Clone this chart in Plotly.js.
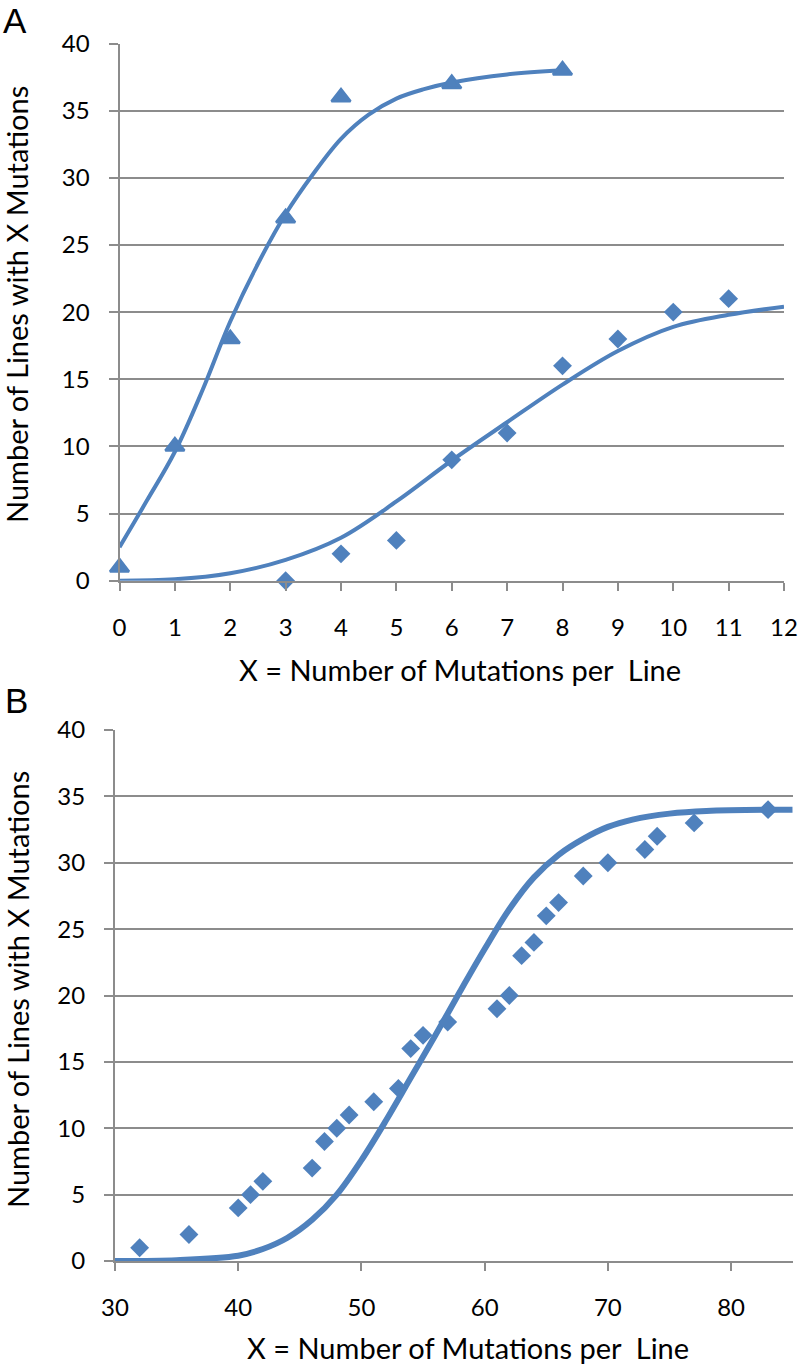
<!DOCTYPE html>
<html>
<head>
<meta charset="utf-8">
<script src="https://cdn.plot.ly/plotly-3.0.1.min.js"></script>
<style>
  html, body { margin: 0; padding: 0; background: #ffffff; }
  #chart { width: 799px; height: 1367px; }
</style>
</head>
<body>
<div id="chart"></div>
<script>
// ---- Panel A data ----
const aTriX = [0, 1, 2, 3, 4, 6, 8];
const aTriY = [1, 10, 18, 27, 36, 37, 38];
const aDiaX = [3, 4, 5, 6, 7, 8, 9, 10, 11];
const aDiaY = [0, 2, 3, 9, 11, 16, 18, 20, 21];
const aFitTriX = [0, 0.5, 1, 1.5, 2, 2.5, 3, 3.5, 4, 4.5, 5, 5.5, 6, 7, 8];
const aFitTriY = [2.5, 6.0, 9.6, 14.2, 19.3, 23.6, 27.3, 30.3, 32.9, 34.7, 35.9, 36.6, 37.1, 37.7, 38.0];
const aFitDiaX = [0, 1, 2, 3, 4, 5, 6, 7, 8, 9, 10, 11, 12];
const aFitDiaY = [0, 0.1, 0.55, 1.55, 3.2, 5.9, 8.95, 11.8, 14.6, 17.1, 18.9, 19.8, 20.4];

// ---- Panel B data ----
const bDiaX = [32, 36, 40, 41, 42, 46, 47, 48, 49, 51, 53, 54, 55, 57, 61, 62, 63, 64, 65, 66, 68, 70, 73, 74, 77, 83];
const bDiaY = [1, 2, 4, 5, 6, 7, 9, 10, 11, 12, 13, 16, 17, 18, 19, 20, 23, 24, 26, 27, 29, 30, 31, 32, 33, 34];
const bFitX = [30, 35, 40, 42, 44, 46, 48, 50, 52, 54, 56, 58, 60, 62, 64, 66, 68, 70, 72, 75, 78, 85];
const bFitY = [0, 0.06, 0.4, 0.9, 1.75, 3.1, 5.0, 7.6, 10.6, 13.8, 17.0, 20.3, 23.5, 26.5, 28.9, 30.6, 31.8, 32.7, 33.25, 33.7, 33.9, 34.0];

// ---- Labels ----
const yTitle = 'Number of Lines with X Mutations';
const xTitle = 'X = Number of Mutations per&nbsp; Line';
const panelLabels = ['A', 'B'];

const W = 799, H = 1367;
const blue = '#4F81BD';
const grid = '#8c8c8c';
const tickFont = { family: 'Lato, "Open Sans", sans-serif', size: 24, color: '#000000' };
const titleFont = { family: 'Lato, "Open Sans", sans-serif', size: 29, color: '#000000' };

const px = v => v / W;
const py = v => 1 - v / H;

const traces = [
  { x: aFitTriX, y: aFitTriY, xaxis: 'x', yaxis: 'y', mode: 'lines',
    line: { color: blue, width: 4, shape: 'spline', smoothing: 1 }, cliponaxis: false, hoverinfo: 'skip' },
  { x: aFitDiaX, y: aFitDiaY, xaxis: 'x', yaxis: 'y', mode: 'lines',
    line: { color: blue, width: 4, shape: 'spline', smoothing: 1 }, cliponaxis: false, hoverinfo: 'skip' },
  { x: aTriX, y: aTriY, xaxis: 'x', yaxis: 'y', mode: 'markers',
    marker: { symbol: 'triangle-up', size: 16.5, color: blue, line: { color: blue, width: 2.5 } }, cliponaxis: false },
  { x: aDiaX, y: aDiaY, xaxis: 'x', yaxis: 'y', mode: 'markers',
    marker: { symbol: 'diamond', size: 14.5, color: blue }, cliponaxis: false },
  { x: bFitX, y: bFitY, xaxis: 'x2', yaxis: 'y2', mode: 'lines',
    line: { color: blue, width: 6, shape: 'spline', smoothing: 1 }, cliponaxis: false, hoverinfo: 'skip' },
  { x: bDiaX, y: bDiaY, xaxis: 'x2', yaxis: 'y2', mode: 'markers',
    marker: { symbol: 'diamond', size: 14.5, color: blue }, cliponaxis: false }
];

const yAxisCommon = {
  range: [0, 40], dtick: 5, tick0: 0, showgrid: true, gridcolor: grid, gridwidth: 2,
  zeroline: false, showline: true, linecolor: grid, linewidth: 2,
  ticks: 'outside', ticklen: 9, tickwidth: 2, tickcolor: grid,
  tickfont: tickFont, ticklabelstandoff: 14, fixedrange: true
};
const xAxisCommon = {
  showgrid: false, zeroline: false, showline: true, linecolor: grid, linewidth: 2,
  ticks: 'outside', ticklen: 8, tickwidth: 2, tickcolor: grid,
  tickfont: tickFont, ticklabelstandoff: 16, fixedrange: true
};

const layout = {
  width: W, height: H,
  margin: { l: 0, r: 0, t: 0, b: 0 },
  paper_bgcolor: '#ffffff', plot_bgcolor: '#ffffff',
  showlegend: false,
  xaxis: Object.assign({}, xAxisCommon, { domain: [px(119.5), px(784)], range: [0, 12], dtick: 1, tick0: 0, anchor: 'y' }),
  yaxis: Object.assign({}, yAxisCommon, { domain: [py(580.7), py(43.5)], anchor: 'x' }),
  xaxis2: Object.assign({}, xAxisCommon, { domain: [px(115), px(792.7)], range: [30, 85], dtick: 10, tick0: 30, anchor: 'y2' }),
  yaxis2: Object.assign({}, yAxisCommon, { domain: [py(1261), py(730)], anchor: 'x2' }),
  annotations: [
    { text: panelLabels[0], xref: 'paper', yref: 'paper', x: px(15), y: py(20.5), xanchor: 'center', yanchor: 'middle',
      showarrow: false, font: { family: '"Liberation Sans", Arial, sans-serif', size: 35, color: '#000' } },
    { text: panelLabels[1], xref: 'paper', yref: 'paper', x: px(16), y: py(700.5), xanchor: 'center', yanchor: 'middle',
      showarrow: false, font: { family: '"Liberation Sans", Arial, sans-serif', size: 35, color: '#000' } },
    { text: yTitle, xref: 'paper', yref: 'paper', x: px(17), y: py(305), xanchor: 'center', yanchor: 'middle',
      textangle: -90, showarrow: false, font: titleFont },
    { text: yTitle, xref: 'paper', yref: 'paper', x: px(17), y: py(990), xanchor: 'center', yanchor: 'middle',
      textangle: -90, showarrow: false, font: titleFont },
    { text: xTitle, xref: 'paper', yref: 'paper', x: px(459.5), y: py(670), xanchor: 'center', yanchor: 'middle',
      showarrow: false, font: titleFont },
    { text: xTitle, xref: 'paper', yref: 'paper', x: px(468), y: py(1347), xanchor: 'center', yanchor: 'middle',
      showarrow: false, font: titleFont }
  ]
};

Plotly.newPlot('chart', traces, layout, { staticPlot: true, displayModeBar: false });
</script>
</body>
</html>
